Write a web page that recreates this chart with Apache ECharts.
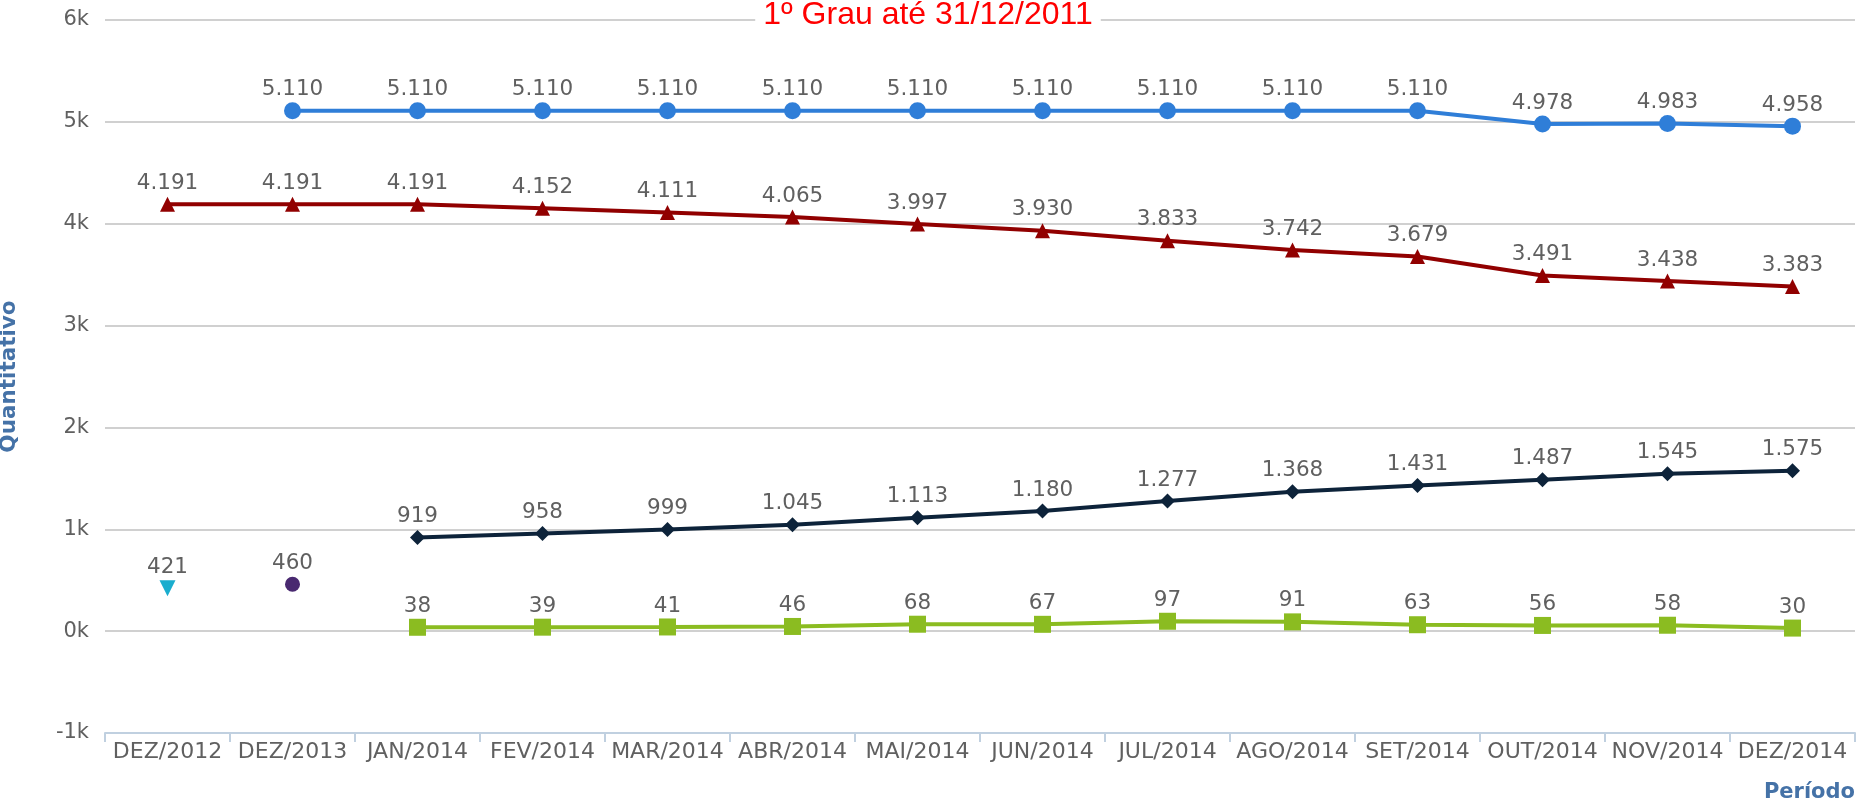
<!DOCTYPE html>
<html>
<head>
<meta charset="utf-8">
<script src="https://cdn.jsdelivr.net/npm/echarts@6/dist/echarts.min.js"></script>
<style>
html,body{margin:0;padding:0;background:#fff;}
#chart{width:1856px;height:805px;}
</style>
</head>
<body>
<div id="chart"></div>
<script>
const categories = ['DEZ/2012','DEZ/2013','JAN/2014','FEV/2014','MAR/2014','ABR/2014','MAI/2014','JUN/2014','JUL/2014','AGO/2014','SET/2014','OUT/2014','NOV/2014','DEZ/2014'];
const serieAzul     = [null,5110,5110,5110,5110,5110,5110,5110,5110,5110,5110,4978,4983,4958];
const serieVermelha = [4191,4191,4191,4152,4111,4065,3997,3930,3833,3742,3679,3491,3438,3383];
const serieEscura   = [null,null,919,958,999,1045,1113,1180,1277,1368,1431,1487,1545,1575];
const serieVerde    = [null,null,38,39,41,46,68,67,97,91,63,56,58,30];
const serieCiano    = [421,null,null,null,null,null,null,null,null,null,null,null,null,null];
const serieRoxa     = [null,460,null,null,null,null,null,null,null,null,null,null,null,null];
const yTicks = {min:-1000, max:6000, interval:1000};
const titleText = '1º Grau até 31/12/2011';

function fmt(v){
  if (v >= 1000) {
    const th = Math.floor(v/1000);
    const r = String(v % 1000).padStart(3,'0');
    return th + '.' + r;
  }
  return String(v);
}

const FONT = 'DejaVu Sans';
function mk(name, data, color, symbol, size){
  return {
    name: name,
    type: 'line',
    data: data,
    symbol: symbol,
    symbolSize: size,
    showAllSymbol: true,
    connectNulls: false,
    lineStyle: {color: color, width: 4},
    itemStyle: {color: color},
    label: {
      show: true,
      position: 'inside',
      offset: [0, -21],
      color: '#606060',
      fontFamily: FONT,
      fontSize: 21.5,
      formatter: p => fmt(p.value)
    },
    emphasis: {disabled: true},
    z: 3
  };
}

const chart = echarts.init(document.getElementById('chart'));
chart.setOption({
  animation: false,
  backgroundColor: '#fff',
  title: {
    text: titleText,
    left: 'center',
    top: 0,
    padding: [0, 8],
    backgroundColor: '#fff',
    textStyle: {color: '#ff0000', fontFamily: 'Liberation Sans', fontSize: 32, fontWeight: 'normal', lineHeight: 31}
  },
  grid: {left: 105, right: 1, top: 20, bottom: 72, containLabel: false, outerBoundsMode: 'none'},
  xAxis: {
    type: 'category',
    data: categories,
    boundaryGap: true,
    axisLine: {show: true, onZero: false, lineStyle: {color: '#C0D0E0', width: 2}},
    axisTick: {show: true, length: 9, lineStyle: {color: '#C0D0E0', width: 2}},
    axisLabel: {color: '#606060', fontFamily: FONT, fontSize: 22, margin: 8, interval: 0},
    splitLine: {show: false},
    name: 'Período',
    nameLocation: 'end',
    nameGap: 0,
    nameTextStyle: {color: '#4572A7', fontFamily: FONT, fontWeight: 'bold', fontSize: 21, align: 'right', verticalAlign: 'top', padding: [49, 0, 0, 0]}
  },
  yAxis: {
    type: 'value',
    min: yTicks.min,
    max: yTicks.max,
    interval: yTicks.interval,
    axisLine: {show: false},
    axisTick: {show: false},
    axisLabel: {color: '#606060', fontFamily: FONT, fontSize: 21, margin: 16, formatter: v => (v/1000) + 'k'},
    splitLine: {show: true, lineStyle: {color: '#C0C0C0', width: 1.5}},
    name: 'Quantitativo',
    nameLocation: 'middle',
    nameGap: 85,
    nameRotate: 90,
    nameTextStyle: {color: '#4572A7', fontFamily: FONT, fontWeight: 'bold', fontSize: 21.5}
  },
  series: [
    mk('Série 1', serieAzul, '#2F7ED8', 'circle', 17),
    mk('Série 2', serieEscura, '#0D233A', 'diamond', 15),
    mk('Série 3', serieVerde, '#8BBC21', 'rect', 17),
    mk('Série 4', serieVermelha, '#910000', 'triangle', 15),
    mk('Série 5', serieCiano, '#1AADCE', 'path://M0,0 L10,0 L5,10 Z', 16),
    mk('Série 6', serieRoxa, '#492970', 'circle', 15)
  ]
});
</script>
</body>
</html>
